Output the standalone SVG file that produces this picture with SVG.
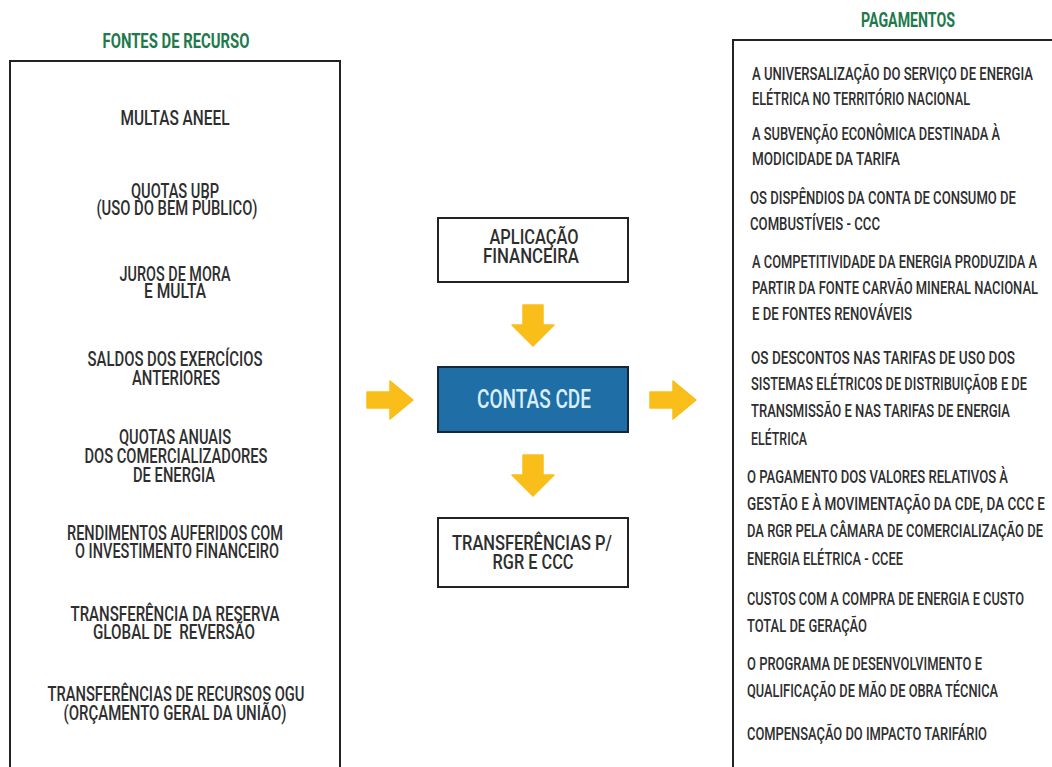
<svg xmlns="http://www.w3.org/2000/svg" width="1052" height="767" viewBox="0 0 1052 767">
<style>
text{font-family:Roboto,"Liberation Sans",sans-serif;font-weight:500;fill:#2e2e2e;}
.t{font-size:19.5px;text-anchor:middle;}
.r{font-size:19px;}
.title{font-size:21px;font-weight:700;fill:#1e7a4b;text-anchor:middle;}
.box{fill:#fff;stroke:#222;stroke-width:2;}
.frame{fill:none;stroke:#222;stroke-width:2;}
.cde{fill:#1f6ea5;stroke:#15283a;stroke-width:2;}
.cdet{font-size:26px;fill:#d8eef9;text-anchor:middle;}
.arrow{fill:#f9be19;stroke:#f9be19;stroke-width:1.5;stroke-linejoin:round;}
</style>
<defs>
<path id="adown" d="M -10 0 H 10 V 20 H 21 L 0 41 L -21 20 H -10 Z"/>
<path id="aright" d="M 0 -8 H 23 V -19 L 46 0 L 23 19 V 8 H 0 Z"/>
</defs>
<rect width="1052" height="767" fill="#fff"/>

<g id="fontes">
<text class="title" x="176" y="48" textLength="147" lengthAdjust="spacingAndGlyphs">FONTES DE RECURSO</text>
<path class="frame" d="M 10 767 V 61 H 340 V 767"/>
<text class="t" x="175" y="125" textLength="109" lengthAdjust="spacingAndGlyphs">MULTAS ANEEL</text>
<text class="t" x="175" y="198" textLength="88" lengthAdjust="spacingAndGlyphs">QUOTAS UBP</text>
<text class="t" x="177" y="215" textLength="161" lengthAdjust="spacingAndGlyphs">(USO DO BEM PÚBLICO)</text>
<text class="t" x="175" y="281" textLength="111" lengthAdjust="spacingAndGlyphs">JUROS DE MORA</text>
<text class="t" x="175" y="298" textLength="62" lengthAdjust="spacingAndGlyphs">E MULTA</text>
<text class="t" x="175" y="366" textLength="175" lengthAdjust="spacingAndGlyphs">SALDOS DOS EXERCÍCIOS</text>
<text class="t" x="176" y="385" textLength="88" lengthAdjust="spacingAndGlyphs">ANTERIORES</text>
<text class="t" x="175" y="444" textLength="112" lengthAdjust="spacingAndGlyphs">QUOTAS ANUAIS</text>
<text class="t" x="176" y="463" textLength="183" lengthAdjust="spacingAndGlyphs">DOS COMERCIALIZADORES</text>
<text class="t" x="174" y="482" textLength="82" lengthAdjust="spacingAndGlyphs">DE ENERGIA</text>
<text class="t" x="175" y="540" textLength="216" lengthAdjust="spacingAndGlyphs">RENDIMENTOS AUFERIDOS COM</text>
<text class="t" x="177" y="558" textLength="204" lengthAdjust="spacingAndGlyphs">O INVESTIMENTO FINANCEIRO</text>
<text class="t" x="175" y="621" textLength="209" lengthAdjust="spacingAndGlyphs">TRANSFERÊNCIA DA RESERVA</text>
<text class="t" x="174" y="639" textLength="162" lengthAdjust="spacingAndGlyphs" style="white-space:pre">GLOBAL DE  REVERSÃO</text>
<text class="t" x="176" y="701" textLength="257" lengthAdjust="spacingAndGlyphs">TRANSFERÊNCIAS DE RECURSOS OGU</text>
<text class="t" x="175" y="720" textLength="223" lengthAdjust="spacingAndGlyphs">(ORÇAMENTO GERAL DA UNIÃO)</text>
</g>

<g id="aplicacao">
<rect class="box" x="438" y="218" width="190" height="64"/>
<text class="t" x="534" y="244" textLength="89" lengthAdjust="spacingAndGlyphs">APLICAÇÃO</text>
<text class="t" x="531" y="263" textLength="96" lengthAdjust="spacingAndGlyphs">FINANCEIRA</text>
</g>

<g id="contas-cde">
<rect class="cde" x="438" y="367" width="190" height="65"/>
<text class="cdet" x="534" y="408" textLength="114" lengthAdjust="spacingAndGlyphs">CONTAS CDE</text>
</g>

<g id="transferencias">
<rect class="box" x="438" y="518" width="190" height="69"/>
<text class="t" x="532" y="550" textLength="160" lengthAdjust="spacingAndGlyphs">TRANSFERÊNCIAS P/</text>
<text class="t" x="533" y="569" textLength="81" lengthAdjust="spacingAndGlyphs">RGR E CCC</text>
</g>

<g id="pagamentos">
<text class="title" x="908" y="27" textLength="94" lengthAdjust="spacingAndGlyphs">PAGAMENTOS</text>
<path class="frame" d="M 733 767 V 40 H 1052"/>
<text class="r" x="752" y="80" textLength="281" lengthAdjust="spacingAndGlyphs">A UNIVERSALIZAÇÃO DO SERVIÇO DE ENERGIA</text>
<text class="r" x="752" y="105" textLength="218" lengthAdjust="spacingAndGlyphs">ELÉTRICA NO TERRITÓRIO NACIONAL</text>
<text class="r" x="752" y="140" textLength="248" lengthAdjust="spacingAndGlyphs">A SUBVENÇÃO ECONÔMICA DESTINADA À</text>
<text class="r" x="752" y="165" textLength="148" lengthAdjust="spacingAndGlyphs">MODICIDADE DA TARIFA</text>
<text class="r" x="750" y="204" textLength="266" lengthAdjust="spacingAndGlyphs">OS DISPÊNDIOS DA CONTA DE CONSUMO DE</text>
<text class="r" x="750" y="230" textLength="130" lengthAdjust="spacingAndGlyphs">COMBUSTÍVEIS - CCC</text>
<text class="r" x="752" y="268" textLength="285" lengthAdjust="spacingAndGlyphs">A COMPETITIVIDADE DA ENERGIA PRODUZIDA A</text>
<text class="r" x="752" y="294" textLength="286" lengthAdjust="spacingAndGlyphs">PARTIR DA FONTE CARVÃO MINERAL NACIONAL</text>
<text class="r" x="752" y="320" textLength="160" lengthAdjust="spacingAndGlyphs">E DE FONTES RENOVÁVEIS</text>
<text class="r" x="751" y="364" textLength="264" lengthAdjust="spacingAndGlyphs">OS DESCONTOS NAS TARIFAS DE USO DOS</text>
<text class="r" x="751" y="390" textLength="276" lengthAdjust="spacingAndGlyphs">SISTEMAS ELÉTRICOS DE DISTRIBUIÇÃOB E DE</text>
<text class="r" x="751" y="417" textLength="259" lengthAdjust="spacingAndGlyphs">TRANSMISSÃO E NAS TARIFAS DE ENERGIA</text>
<text class="r" x="751" y="445" textLength="56" lengthAdjust="spacingAndGlyphs">ELÉTRICA</text>
<text class="r" x="747" y="483" textLength="261" lengthAdjust="spacingAndGlyphs">O PAGAMENTO DOS VALORES RELATIVOS À</text>
<text class="r" x="747" y="510" textLength="298" lengthAdjust="spacingAndGlyphs">GESTÃO E À MOVIMENTAÇÃO DA CDE, DA CCC E</text>
<text class="r" x="747" y="537" textLength="296" lengthAdjust="spacingAndGlyphs">DA RGR PELA CÂMARA DE COMERCIALIZAÇÃO DE</text>
<text class="r" x="747" y="565" textLength="156" lengthAdjust="spacingAndGlyphs">ENERGIA ELÉTRICA - CCEE</text>
<text class="r" x="747" y="605" textLength="277" lengthAdjust="spacingAndGlyphs">CUSTOS COM A COMPRA DE ENERGIA E CUSTO</text>
<text class="r" x="747" y="632" textLength="120" lengthAdjust="spacingAndGlyphs">TOTAL DE GERAÇÃO</text>
<text class="r" x="747" y="670" textLength="235" lengthAdjust="spacingAndGlyphs">O PROGRAMA DE DESENVOLVIMENTO E</text>
<text class="r" x="747" y="697" textLength="251" lengthAdjust="spacingAndGlyphs">QUALIFICAÇÃO DE MÃO DE OBRA TÉCNICA</text>
<text class="r" x="747" y="740" textLength="240" lengthAdjust="spacingAndGlyphs">COMPENSAÇÃO DO IMPACTO TARIFÁRIO</text>
</g>

<g id="connectors">
<use href="#adown" class="arrow" x="533" y="305"/>
<use href="#adown" class="arrow" x="533" y="455"/>
<use href="#aright" class="arrow" x="367" y="400"/>
<use href="#aright" class="arrow" x="650" y="400"/>
</g>
</svg>
